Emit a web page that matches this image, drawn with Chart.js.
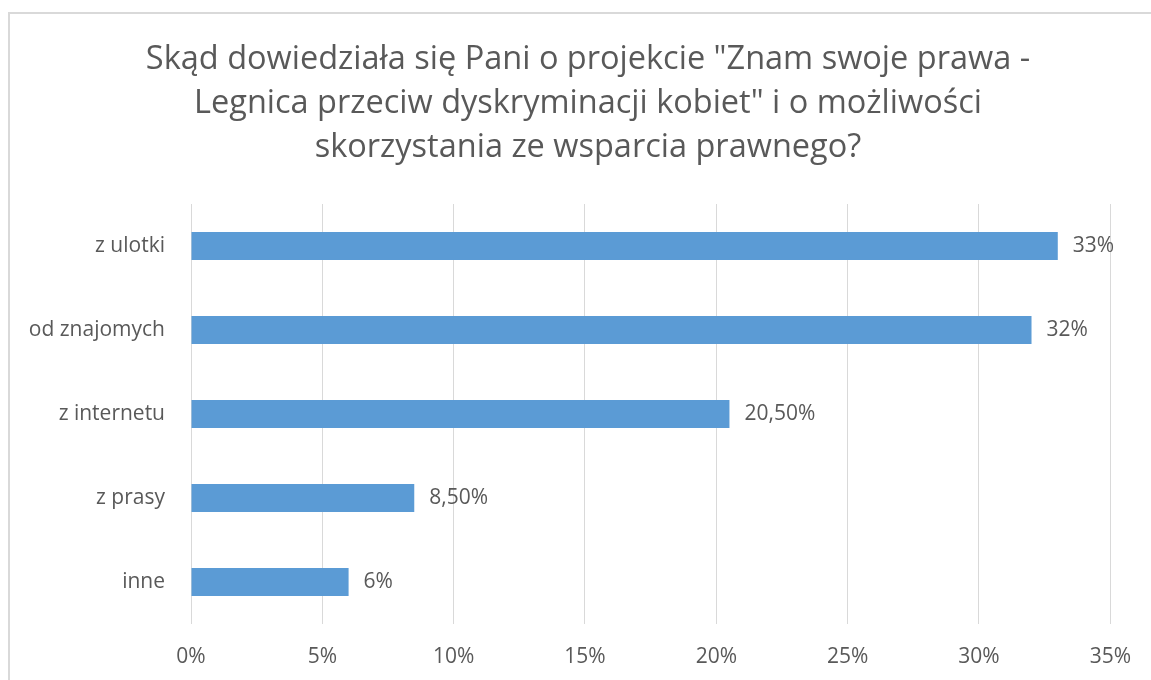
<!DOCTYPE html>
<html lang="pl">
<head>
<meta charset="utf-8">
<script src="https://cdn.jsdelivr.net/npm/chart.js@4.4.1/dist/chart.umd.min.js"></script>
<style>
    html, body { margin: 0; padding: 0; background: #fff; overflow: hidden; }
    .frame {
        position: absolute; left: 8px; top: 12px;
        width: 1200px; height: 720px;
        border-left: 2px solid #d9d9d9; border-top: 2px solid #d9d9d9;
    }
    .wrap { position: absolute; left: 0; top: 0; width: 1151px; height: 680px; }
</style>
</head>
<body>
<div class="frame"></div>
<div class="wrap"><canvas id="chart"></canvas></div>
<script>
// Dane wykresu
const categories = ['z ulotki', 'od znajomych', 'z internetu', 'z prasy', 'inne'];
const values = [33, 32, 20.5, 8.5, 6];
const valueLabels = ['33%', '32%', '20,50%', '8,50%', '6%'];
const titleLines = [
    'Skąd dowiedziała się Pani o projekcie "Znam swoje prawa -',
    'Legnica przeciw dyskryminacji kobiet" i o możliwości',
    'skorzystania ze wsparcia prawnego?'
];

const textColor = '#595959';
const fontFamily = '"Open Sans", "DejaVu Sans", sans-serif';

// Etykiety wartości na końcu słupków
const barLabels = {
    id: 'barLabels',
    afterDatasetsDraw(chart) {
        const ctx = chart.ctx;
        const meta = chart.getDatasetMeta(0);
        ctx.save();
        ctx.font = '21px ' + fontFamily;
        ctx.fillStyle = textColor;
        ctx.textAlign = 'left';
        ctx.textBaseline = 'middle';
        meta.data.forEach((bar, i) => {
            ctx.fillText(valueLabels[i], bar.x + 15, bar.y);
        });
        ctx.restore();
    }
};

new Chart(document.getElementById('chart'), {
    type: 'bar',
    data: {
        labels: categories,
        datasets: [{
            data: values,
            backgroundColor: '#5b9bd5',
            borderWidth: 0,
            categoryPercentage: 1,
            barPercentage: 1 / 3
        }]
    },
    options: {
        indexAxis: 'y',
        responsive: true,
        maintainAspectRatio: false,
        animation: false,
        // prawy margines ujemny, żeby tytuł był wyśrodkowany jak w oryginale
        layout: { padding: { left: 0, right: -25, top: 0, bottom: 0 } },
        plugins: {
            legend: { display: false },
            tooltip: { enabled: false },
            title: {
                display: true,
                text: titleLines,
                color: textColor,
                font: { family: fontFamily, size: 32.5, weight: 'normal', lineHeight: 1.354 },
                padding: { top: 38, bottom: 34 }
            }
        },
        scales: {
            x: {
                min: 0,
                max: 35,
                ticks: {
                    stepSize: 5,
                    color: textColor,
                    font: { family: fontFamily, size: 21 },
                    padding: 20,
                    callback: v => v + '%'
                },
                grid: { color: '#d9d9d9', drawTicks: false },
                border: { display: false },
                afterFit: s => { s.height = 56; }
            },
            y: {
                ticks: {
                    color: textColor,
                    font: { family: fontFamily, size: 21 },
                    padding: 26
                },
                grid: { display: false, drawTicks: false },
                border: { display: false },
                afterFit: s => { s.width = 191; }
            },
            // pusta oś po prawej - tylko rezerwuje miejsce
            pad: {
                type: 'linear',
                position: 'right',
                ticks: { display: false },
                grid: { display: false, drawTicks: false },
                border: { display: false },
                afterFit: s => { s.width = 64; }
            }
        }
    },
    plugins: [barLabels]
});
</script>
</body>
</html>
